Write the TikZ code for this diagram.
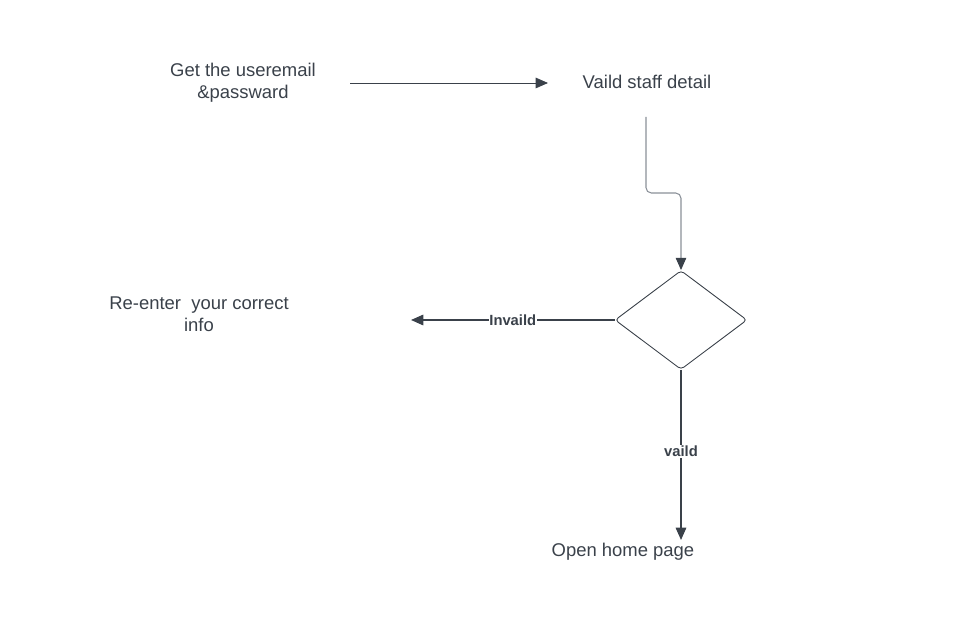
\documentclass[tikz,border=0pt]{standalone}
\usepackage{fontspec}
\setmainfont{Liberation Sans}
\usepackage{xcolor}
\usetikzlibrary{arrows, arrows.meta, shapes.geometric}
\definecolor{inkgray}{HTML}{3A414A}
\definecolor{linegray}{HTML}{8A9098}

\tikzset{
  txt/.style={text=inkgray, font=\fontsize{10.5}{12.6}\selectfont, align=center, inner sep=1pt},
  lbl/.style={text=inkgray, font=\bfseries\fontsize{8.4}{9}\selectfont, fill=white, inner sep=0.5pt},
  flow/.style={draw=inkgray, line width=0.75pt, -{Triangle[length=7pt,width=6pt,color=inkgray]}},
  decision/.style={diamond, draw=inkgray, line width=0.5pt, rounded corners=2pt,
    minimum width=2.64cm, minimum height=1.98cm, aspect=1.333, inner sep=0pt}
}

\begin{document}
\begin{tikzpicture}[x=0.02cm, y=-0.02cm]
\useasboundingbox (0,0) rectangle (971,617);
\node[txt] (get) at (243,83) {Get the useremail\\\&passward};
\node[txt] (valid) at (647,82) {Vaild staff detail};
\node[decision] (check) at (681,320) {};
\node[txt] (reenter) at (199,314) {Re-enter\ \ your correct\\info};
\node[txt] (home) at (623,552) {Open home page};
\coordinate (getout) at (350,83);
\coordinate (validin) at (548,83);
\coordinate (validout) at (646,117);
\coordinate (reenterin) at (411,320);
\coordinate (homein) at (681,540);
% connectors
\draw[flow, line width=0.5pt] (getout) -- (validin);
\draw[flow, draw=linegray, line width=0.6pt, rounded corners=3pt] (validout) |- (663,193) -| (check.north);
\draw[flow] (check.west) -- node[lbl, pos=0.5] {Invaild} (reenterin);
\draw[flow] (check.south) -- node[lbl, pos=0.48] {vaild} (homein);
\end{tikzpicture}
\end{document}
